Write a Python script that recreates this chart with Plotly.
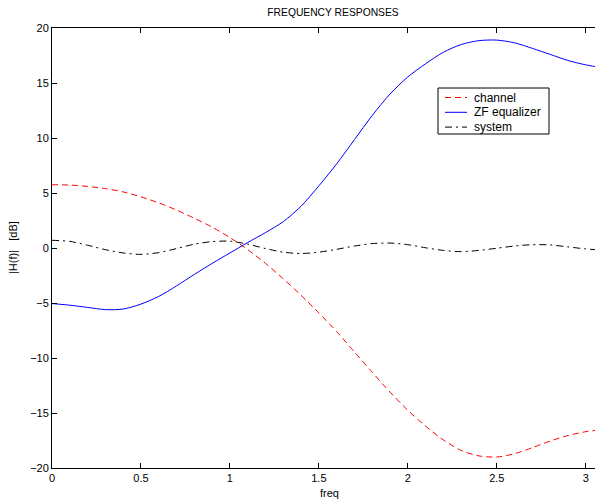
import plotly.graph_objects as go
import math

freq = [0.0, 0.1, 0.2, 0.3, 0.4, 0.5, 0.6, 0.7, 0.8, 0.9, 1.0,
        1.1, 1.2, 1.3, 1.4, 1.5, 1.6, 1.7, 1.8, 1.9, 2.0,
        2.1, 2.2, 2.3, 2.4, 2.5, 2.6, 2.7, 2.8, 2.9, 3.0, 3.1, math.pi]

channel = [5.75, 5.72, 5.6, 5.4, 5.1, 4.65, 4.1, 3.45, 2.7, 1.9, 0.95,
           -0.15, -1.4, -2.8, -4.3, -5.9, -7.6, -9.45, -11.3, -13.1, -14.75,
           -16.2, -17.45, -18.4, -18.9, -19.0, -18.7, -18.15, -17.55, -17.05, -16.7, -16.5, -16.45]

equalizer = [-5.05, -5.2, -5.4, -5.6, -5.55, -5.1, -4.4, -3.45, -2.4, -1.4, -0.45,
             0.5, 1.4, 2.4, 3.8, 5.65, 7.65, 9.85, 12.05, 14.0, 15.55,
             16.75, 17.8, 18.5, 18.85, 18.9, 18.65, 18.15, 17.6, 17.05, 16.65, 16.38, 16.3]

system = [0.7, 0.6, 0.25, -0.15, -0.45, -0.58, -0.42, -0.05, 0.35, 0.58, 0.62,
          0.35, -0.05, -0.38, -0.5, -0.38, -0.12, 0.18, 0.4, 0.45, 0.3,
          0.02, -0.22, -0.33, -0.22, -0.02, 0.18, 0.3, 0.28, 0.1, -0.08, -0.2, -0.22]

series_names = ["channel", "ZF equalizer", "system"]
series_colors = ["#ff0000", "#0000ff", "#000000"]
series_dash = ["6px,4px", "solid", "7px,4px,2px,4px"]

xticks = [0, 0.5, 1, 1.5, 2, 2.5, 3]
yticks = [-20, -15, -10, -5, 0, 5, 10, 15, 20]

FONT = "Liberation Sans, Arial, Helvetica, sans-serif"
OFF = 8  # default page body margin
W, H = 603 - OFF, 504 - OFF
ML, MT = 52 - OFF, 28 - OFF
MB = H - (468 - OFF)
PW, PH = W - ML, H - MT - MB


def px(xp):  # reference-window pixel -> paper
    return (xp - OFF - ML) / PW


def py(yp):
    return (H - MB - (yp - OFF)) / PH


fig = go.Figure()
for name, vals, col, dash in zip(series_names, [channel, equalizer, system], series_colors, series_dash):
    fig.add_trace(go.Scatter(x=freq, y=vals, mode="lines", name=name, showlegend=False,
                             line=dict(color=col, width=1, dash=dash, shape="spline", smoothing=0.8)))

shapes = [dict(type="rect", xref="paper", yref="paper", x0=px(438), x1=px(549), y0=py(134), y1=py(88),
               line=dict(color="black", width=1), fillcolor="white", layer="above")]
annotations = []
for i, (name, col, dash) in enumerate(zip(series_names, series_colors, series_dash)):
    yy = 97.5 + i * 14.8
    shapes.append(dict(type="line", xref="paper", yref="paper", x0=px(445), x1=px(467), y0=py(yy), y1=py(yy),
                       line=dict(color=col, width=1, dash=dash), layer="above"))
    annotations.append(dict(text=name, xref="paper", yref="paper", x=px(472), y=py(yy), xanchor="left",
                            yanchor="middle", showarrow=False, font=dict(size=12, color="black")))

annotations.append(dict(text="freq", xref="paper", yref="paper", x=px(329), y=py(493), xanchor="center",
                        yanchor="middle", showarrow=False, font=dict(size=11)))
annotations.append(dict(text="|H(f)|   [dB]", xref="paper", yref="paper", x=px(13), y=py(248),
                        xanchor="center", yanchor="middle", textangle=-90, showarrow=False,
                        font=dict(size=11)))

fig.update_layout(
    width=W, height=H,
    margin=dict(l=ML, r=0, t=MT, b=MB, autoexpand=False),
    paper_bgcolor="white", plot_bgcolor="white",
    font=dict(family=FONT, size=11, color="black"),
    title=dict(text="FREQUENCY RESPONSES", x=(333 - OFF) / W, xanchor="center",
               y=1 - (12 - OFF) / H, yanchor="middle", font=dict(size=10.3)),
    showlegend=False,
    shapes=shapes,
    annotations=annotations,
)
fig.update_xaxes(range=[0, 3.097], tickvals=xticks, ticks="inside", ticklen=5,
                 tickcolor="black", showline=True, linecolor="black", linewidth=1,
                 mirror="ticks", showgrid=False, zeroline=False, automargin=False,
                 tickfont=dict(size=11))
fig.update_yaxes(range=[-20, 20], tickvals=yticks, ticks="inside", ticklen=5,
                 tickcolor="black", showline=True, linecolor="black", linewidth=1,
                 mirror="ticks", showgrid=False, zeroline=False, automargin=False,
                 tickfont=dict(size=11))

fig.write_html("out.html")
